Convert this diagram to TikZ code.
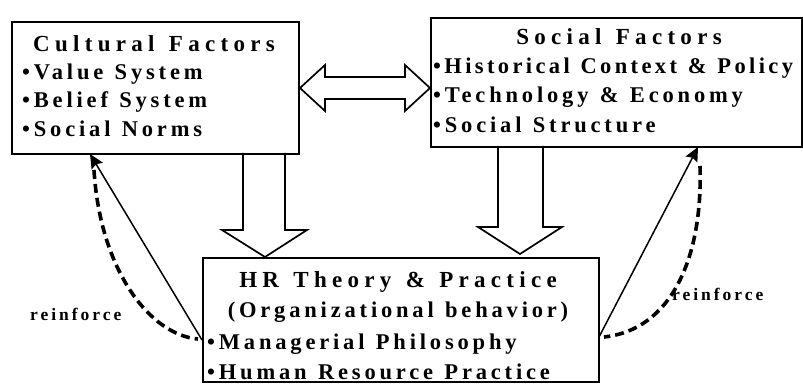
\documentclass[tikz,border=0pt]{standalone}
\usepackage{fontspec}
\setmainfont{Liberation Serif}
\newfontfamily\itemfont[LetterSpace=17,WordSpace=1.2]{Liberation Serif}
\newfontfamily\tightfont[LetterSpace=15,WordSpace=1.2]{Liberation Serif}
\newfontfamily\headfont[LetterSpace=23,WordSpace=1.3]{Liberation Serif}
\usetikzlibrary{arrows.meta}
\usetikzlibrary{positioning,calc}

\begin{document}
\begin{tikzpicture}[x=1pt,y=1pt,yscale=-1,xscale=1]
  \tikzstyle{box} = [draw,line width=2.2pt,inner sep=0pt,anchor=north west]
  \tikzstyle{item} = [inner sep=0pt,anchor=base west,font=\itemfont\bfseries\fontsize{22.5}{26}\selectfont]
  \tikzstyle{head} = [item,anchor=base,font=\headfont\bfseries\fontsize{23}{27}\selectfont]
  \tikzstyle{lbl} = [inner sep=0pt,anchor=base west,font=\itemfont\bfseries\fontsize{17.5}{20}\selectfont]
  \tikzstyle{fat} = [line width=1.7pt,line join=miter]
  \tikzstyle{arrow} = [line width=1.5pt,-{Stealth[length=14pt,width=13pt,inset=2pt]}]
  \tikzstyle{loop} = [line width=3.6pt,dash pattern=on 9pt off 5pt]
  \useasboundingbox (0,0) rectangle (803,385);
  %Draw the three boxes
  \node[box,minimum width=287pt,minimum height=132pt] (cult) at (11,21) {};
  \node[box,minimum width=371pt,minimum height=129pt] (soc) at (430,17) {};
  \node[box,minimum width=396pt,minimum height=124pt] (hr) at (202,257) {};
  %Texts of the boxes
  \node[head] (culthead) at (154,52) {Cultural Factors};
  \node[item] (cultval) at (22,80) {\textbullet Value System};
  \node[item] (cultbel) at (22,108) {\textbullet Belief System};
  \node[item] (cultnorm) at (22,137) {\textbullet Social Norms};

  \node[head] (sochead) at (619,45) {Social Factors};
  \node[item,font=\tightfont\bfseries\fontsize{22.5}{26}\selectfont] (sochist) at (433,74) {\textbullet Historical Context \& Policy};
  \node[item] (soctech) at (433,103) {\textbullet Technology \& Economy};
  \node[item] (socstruct) at (433,132) {\textbullet Social Structure};

  \node[head] (hrhead) at (398,287) {HR Theory \& Practice};
  \node[item,anchor=base] (hrorg) at (398,317) {(Organizational behavior)};
  \node[item] (hrphil) at (207,349) {\textbullet Managerial Philosophy};
  \node[item] (hrprac) at (207,379) {\textbullet Human Resource Practice};
  %Draw the fat arrows
  \draw[fat] (300,88) -- (325,65) -- (325,77) -- (405,77) -- (405,65) -- (430,88)
    -- (405,111) -- (405,99) -- (325,99) -- (325,111) -- cycle;
  \draw[fat] (243,153) -- (243,230) -- (222,230) -- (265,257) -- (307,230) -- (285,230) -- (285,153);
  \draw[fat] (498,146) -- (498,227) -- (478,227) -- (520,254) -- (562,227) -- (543,227) -- (543,146);
  % Points for the feedback arrows
  \coordinate (cultfoot) at (90,154);
  \coordinate (hrwest) at (202,340);
  \coordinate (socfoot) at (698,147);
  \coordinate (hreast) at (599,337);
  %Draw feedback arrows
  \draw[arrow] (hrwest) -- (cultfoot);
  \draw[loop] (94,170) .. controls (100,270) and (150,335) .. (198,339);
  \draw[arrow] (hreast) -- (socfoot);
  \draw[loop] (700,166) .. controls (703,260) and (670,330) .. (604,337);
  % Label the loops
  \node[lbl] (reinfleft) at (30,320) {reinforce};
  \node[lbl] (reinfright) at (672,300) {reinforce};
\end{tikzpicture}
\end{document}
